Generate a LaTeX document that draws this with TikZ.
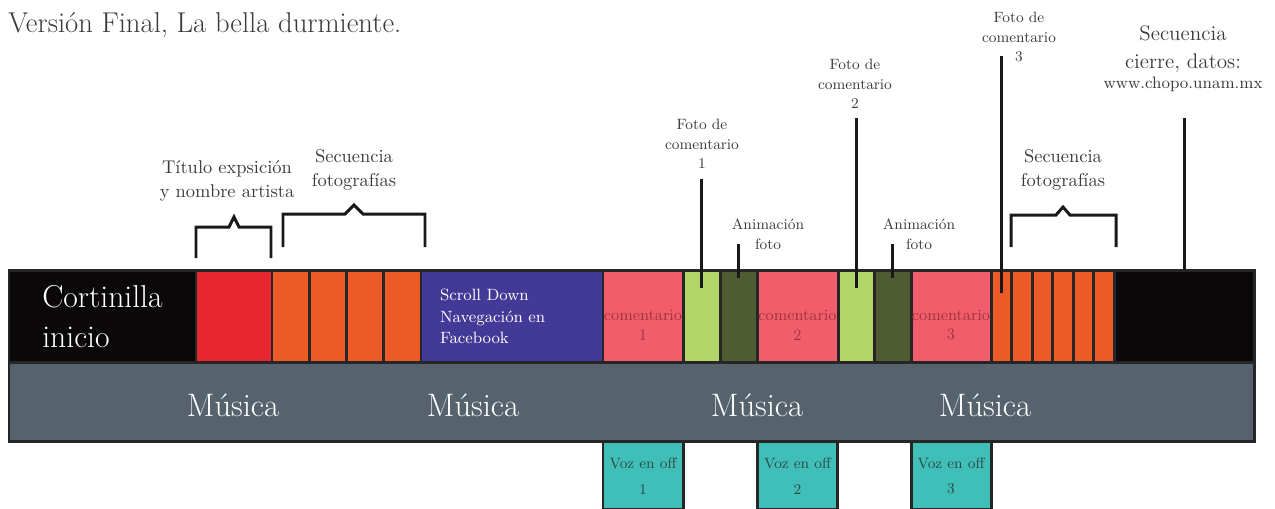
\documentclass[tikz,border=0pt]{standalone}
\usepackage{fontspec}
\usetikzlibrary{positioning,calc}
\definecolor{edge}{HTML}{262626}
\definecolor{ink}{HTML}{3A3A3A}
\definecolor{negro}{HTML}{0B080A}
\definecolor{rojo}{HTML}{E8262F}
\definecolor{naranja}{HTML}{EC5B27}
\definecolor{morado}{HTML}{433A98}
\definecolor{salmon}{HTML}{F15D6B}
\definecolor{verdeclaro}{HTML}{B3D66A}
\definecolor{verdeoscuro}{HTML}{4F5C32}
\definecolor{turquesa}{HTML}{3FBFB8}
\definecolor{pizarra}{HTML}{56636F}
\definecolor{vino}{HTML}{9E3440}
\definecolor{tinta}{HTML}{2F4848}

\begin{document}
\begin{tikzpicture}[
  x=0.02cm, y=-0.02cm,
  blk/.style={draw=edge, line width=1.7pt, inner sep=0pt, outer sep=0pt, minimum height=1.86cm},
  wpx/.style={minimum width=#1*0.02cm},
  lbl/.style={text=ink, align=center, inner sep=0pt, font=\fontsize{10.5}{13.6}\selectfont},
  nota/.style={text=ink, align=center, inner sep=0pt, font=\fontsize{8.5}{11.2}\selectfont},
  musica/.style={text=white, inner sep=0pt, font=\fontsize{18.5}{22}\selectfont},
  coment/.style={text=vino, align=center, inner sep=0pt, font=\fontsize{9}{11.3}\selectfont, yshift=-0.17cm},
  voz/.style={blk, fill=turquesa, wpx=80, minimum height=1.36cm, anchor=north, align=center, text=tinta, font=\fontsize{8.5}{14.7}\selectfont},
  brk/.style={draw=black!90, line width=1.7pt}
]
\useasboundingbox (0,0) rectangle (1275,508);

\node[text=ink, anchor=base west, inner sep=0pt, font=\fontsize{16.3}{19}\selectfont] (encabezado) at (8,32) {Versión Final, La bella durmiente.};

% fila de bloques
\node[blk, fill=negro, wpx=187, anchor=north west, text=white, align=left, font=\fontsize{18}{22.7}\selectfont] (cort) at (9,270) {Cortinilla\\inicio};
\node[blk, fill=rojo, wpx=76, right=0pt of cort] (titulo) {};
\node[blk, fill=naranja, wpx=37.25, right=0pt of titulo] (f1) {};
\node[blk, fill=naranja, wpx=37.25, right=0pt of f1] (f2) {};
\node[blk, fill=naranja, wpx=37.25, right=0pt of f2] (f3) {};
\node[blk, fill=naranja, wpx=37.25, right=0pt of f3] (f4) {};
\node[blk, fill=morado, wpx=182, right=0pt of f4, text=white, text width=2.88cm, align=left, font=\fontsize{9.3}{12.2}\selectfont] (scroll) {Scroll Down\\Navegación en\\Facebook};
\node[blk, fill=salmon, wpx=80, right=0pt of scroll, label={[coment]center:comentario\\1}] (com1) {};
\node[blk, fill=verdeclaro, wpx=37, right=0pt of com1] (lg1) {};
\node[blk, fill=verdeoscuro, wpx=37, right=0pt of lg1] (dg1) {};
\node[blk, fill=salmon, wpx=81, right=0pt of dg1, label={[coment]center:comentario\\2}] (com2) {};
\node[blk, fill=verdeclaro, wpx=36, right=0pt of com2] (lg2) {};
\node[blk, fill=verdeoscuro, wpx=37, right=0pt of lg2] (dg2) {};
\node[blk, fill=salmon, wpx=80, right=0pt of dg2, label={[coment]center:comentario\\3}] (com3) {};
\node[blk, fill=naranja, wpx=20.5, right=0pt of com3] (s1) {};
\node[blk, fill=naranja, wpx=20.5, right=0pt of s1] (s2) {};
\node[blk, fill=naranja, wpx=20.5, right=0pt of s2] (s3) {};
\node[blk, fill=naranja, wpx=20.5, right=0pt of s3] (s4) {};
\node[blk, fill=naranja, wpx=20.5, right=0pt of s4] (s5) {};
\node[blk, fill=naranja, wpx=20.5, right=0pt of s5] (s6) {};
\node[blk, fill=negro, wpx=140, right=0pt of s6] (fin) {};

% banda de audio
\node[blk, fill=pizarra, wpx=1245, minimum height=1.58cm, anchor=north west] (band) at (cort.south west) {};
\node[musica] (mus1) at (233,405) {Música};
\node[musica] (mus2) at (473,405) {Música};
\node[musica] (mus3) at (757,405) {Música};
\node[musica] (mus4) at (985,405) {Música};

\node[voz] (voz1) at (com1 |- band.south) {Voz en off\\1};
\node[voz] (voz2) at (com2 |- band.south) {Voz en off\\2};
\node[voz] (voz3) at (com3 |- band.south) {Voz en off\\3};

% etiquetas de arriba
\node[lbl] (tit) at (227,181) {Título expsición\\y nombre artista};
\node[lbl] (sec1) at (354,170) {Secuencia\\fotografías};
\node[lbl] (sec2) at (1063,170) {Secuencia\\fotografías};
\node[nota] (fc1) at (702,144) {Foto de\\comentario\\1};
\node[nota] (an1) at (768,234) {Animación\\foto};
\node[nota] (fc2) at (855,84) {Foto de\\comentario\\2};
\node[nota] (an2) at (919,234) {Animación\\foto};
\node[nota] (fc3) at (1019,37) {Foto de\\comentario\\3};
\node[text=ink, align=center, inner sep=0pt, font=\fontsize{12}{15.9}\selectfont] (cie) at (1183,49) {Secuencia\\cierre, datos:};
\node[text=ink, inner sep=0pt, font=\fontsize{9.4}{12}\selectfont, below=2pt of cie] (web) {www.chopo.unam.mx};

% llaves
\draw[brk] (196,258) |- (229,227) -- (234,217) -- (239,227) -| (271,258);
\draw[brk] (283,247) |- (345,214) -- (354,205) -- (363,214) -| (425,247);
\draw[brk] (1011,247) |- (1056,215) -- (1063,207) -- (1070,215) -| (1116,247);

% lineas indicadoras
\draw[brk] ($(lg1.north |- fc1.south)+(0,10)$) -- ($(lg1.north)+(0,18)$);
\draw[brk] ($(dg1.north |- an1.south)+(0,-6)$) -- ($(dg1.north)+(0,8)$);
\draw[brk] ($(lg2.north |- fc2.south)+(0,9)$) -- ($(lg2.north)+(0,18)$);
\draw[brk] ($(dg2.north |- an2.south)+(0,-6)$) -- ($(dg2.north)+(0,8)$);
\draw[brk] ($(s1.north |- fc3.south)+(0,-6)$) -- ($(s1.north)+(0,23)$);
\draw[brk] ($(fin.north |- web.south)+(0,26)$) -- (fin.north);
\end{tikzpicture}
\end{document}
